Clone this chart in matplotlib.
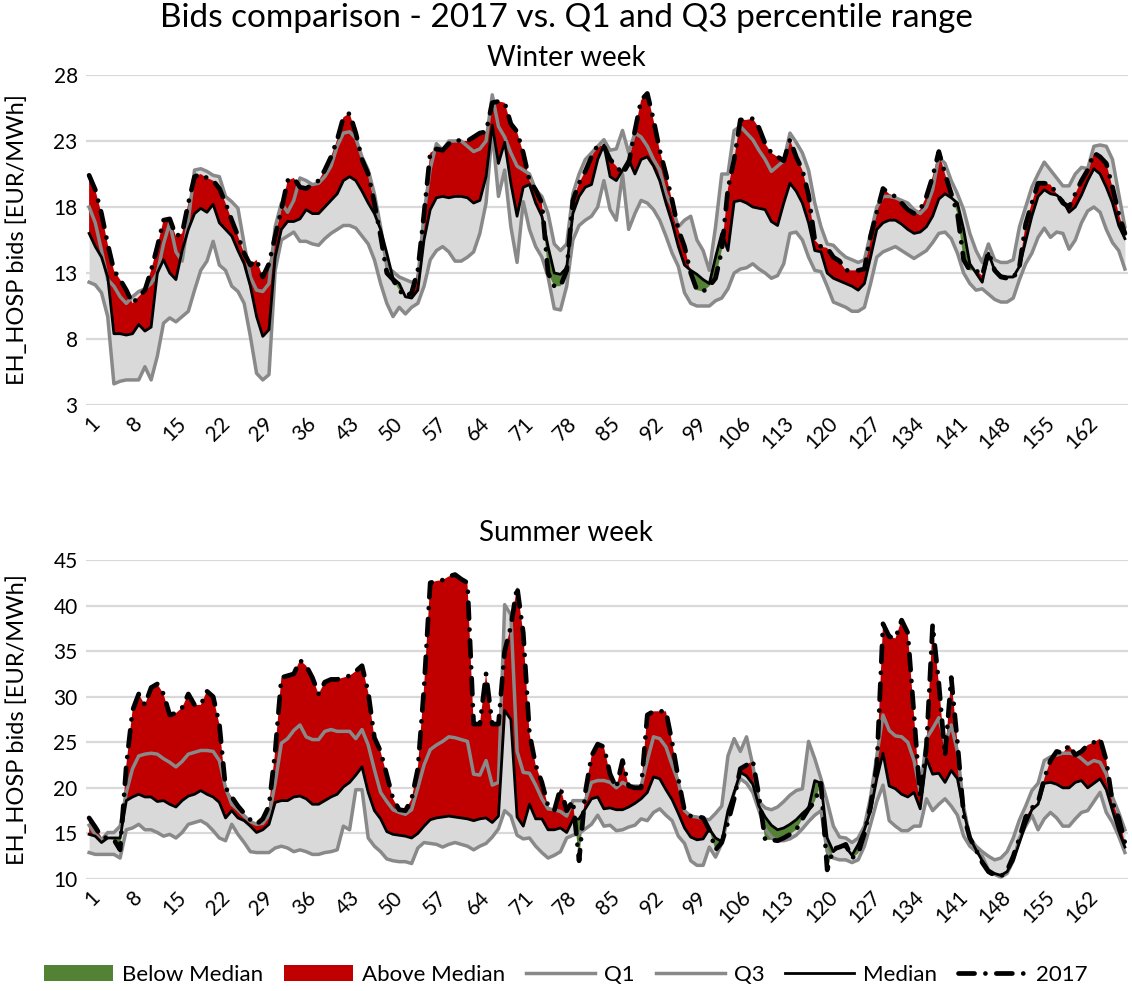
import matplotlib
matplotlib.use("Agg")
import matplotlib.pyplot as plt
from matplotlib.patches import Patch
from matplotlib.lines import Line2D

plt.rcParams['font.family'] = ['Lato', 'DejaVu Sans']

hours = list(range(1, 169))
tick_hours = list(range(1, 169, 7))
tick_labels = [str(h) for h in tick_hours]

title = "Bids comparison - 2017 vs. Q1 and Q3 percentile range"
winter_title = "Winter week"
summer_title = "Summer week"
ylabel = "EH_HOSP bids [EUR/MWh]"

winter_median = [
    16.0, 15.0, 14.2, 12.7, 8.4, 8.4, 8.3, 8.4, 9.1, 8.6,
    8.9, 13.0, 14.0, 13.0, 12.5, 14.7, 16.3, 17.5, 17.9, 17.6,
    18.2, 16.8, 16.3, 15.8, 14.7, 13.7, 12.0, 9.7, 8.2, 8.7,
    14.2, 16.3, 16.9, 16.9, 17.1, 17.8, 17.5, 17.5, 18.0, 18.5,
    19.0, 20.0, 20.3, 20.0, 19.2, 18.3, 17.5, 16.3, 14.5, 12.6,
    12.2, 11.2, 11.1, 11.7, 15.5, 17.8, 18.7, 18.8, 18.7, 18.8,
    18.8, 18.7, 18.3, 18.5, 20.3, 24.2, 21.3, 22.9, 19.8, 17.3,
    19.5, 19.7, 18.3, 17.3, 15.0, 13.0, 12.9, 13.4, 17.5, 18.8,
    19.5, 19.7, 21.6, 22.7, 20.3, 20.0, 20.8, 21.6, 20.5, 21.6,
    21.8, 21.1, 20.0, 18.3, 16.8, 15.0, 13.6, 13.2, 12.9, 12.5,
    12.2, 14.2, 16.0, 14.7, 18.4, 18.5, 18.3, 18.0, 17.9, 17.8,
    16.9, 16.6, 18.3, 19.8, 19.2, 18.3, 16.8, 14.7, 14.6, 13.0,
    12.6, 12.4, 12.2, 12.0, 11.7, 12.2, 14.2, 16.3, 16.8, 17.0,
    17.0, 16.7, 16.3, 16.0, 16.1, 16.5, 17.3, 18.6, 19.0, 18.7,
    18.3, 16.3, 13.7, 13.0, 12.3, 14.5, 13.2, 12.8, 12.7, 12.7,
    13.5, 15.4, 17.3, 18.8, 19.3, 19.0, 18.9, 18.5, 17.6, 18.0,
    18.9, 20.0, 20.9, 20.5, 19.5, 18.3, 16.6, 15.6]

winter_q1 = [
    12.3, 12.1, 11.5, 9.7, 4.6, 4.8, 4.9, 4.9, 4.9, 5.9,
    4.9, 6.7, 9.2, 9.6, 9.3, 9.7, 10.1, 11.7, 13.2, 13.9,
    15.4, 13.6, 13.2, 12.0, 11.6, 10.7, 8.2, 5.4, 4.9, 5.3,
    13.2, 15.5, 15.8, 16.1, 15.4, 15.4, 15.2, 15.1, 15.6, 16.0,
    16.3, 16.6, 16.6, 16.4, 15.8, 15.2, 14.0, 12.2, 10.7, 9.7,
    10.4, 9.9, 10.4, 10.7, 12.0, 14.0, 14.7, 15.0, 14.6, 13.9,
    13.9, 14.2, 14.6, 16.0, 18.3, 23.8, 18.8, 20.8, 16.5, 13.8,
    18.4, 16.3, 15.0, 14.2, 12.7, 10.3, 10.2, 12.0, 15.5, 16.6,
    17.0, 17.3, 18.0, 20.0, 17.8, 17.0, 20.5, 16.3, 17.5, 18.5,
    18.3, 17.8, 17.0, 15.8, 14.5, 13.5, 11.5, 10.7, 10.5, 10.5,
    10.5, 10.9, 11.1, 11.8, 13.0, 13.3, 13.4, 13.7, 13.3, 13.0,
    12.6, 12.8, 13.7, 16.0, 16.1, 15.5, 14.2, 13.2, 13.1, 12.0,
    10.8, 10.6, 10.4, 10.1, 10.1, 10.4, 12.2, 14.2, 14.6, 14.8,
    15.0, 14.7, 14.4, 14.1, 14.4, 14.7, 15.3, 16.0, 16.1, 15.6,
    14.5, 13.0, 12.2, 11.7, 11.8, 11.4, 11.0, 10.8, 10.8, 11.1,
    12.5, 13.7, 14.5, 15.7, 16.4, 15.7, 16.1, 16.0, 14.8, 15.5,
    16.8, 17.7, 18.0, 17.6, 16.3, 15.3, 14.7, 13.3]

winter_q3 = [
    18.0, 16.8, 14.7, 12.5, 12.0, 11.2, 10.7, 11.2, 11.6, 11.8,
    12.2, 13.0, 15.2, 16.8, 14.6, 13.9, 17.0, 20.8, 20.9, 20.7,
    20.4, 20.3, 18.8, 18.4, 17.9, 15.2, 12.7, 11.7, 11.6, 12.2,
    16.5, 18.3, 17.6, 18.5, 20.2, 20.0, 19.7, 19.8, 20.3, 21.1,
    22.6, 23.6, 23.7, 23.2, 21.8, 20.8, 19.0, 16.5, 13.5, 13.1,
    12.7, 12.5, 12.3, 12.5, 17.5, 20.9, 22.8, 22.3, 23.0, 23.0,
    23.0, 22.6, 22.2, 22.4, 23.0, 26.5, 24.1, 23.3, 22.1, 21.1,
    20.8, 20.5, 19.3, 18.8, 17.5, 15.2, 14.7, 15.2, 19.0, 20.5,
    21.6, 22.1, 22.6, 23.1, 22.3, 22.4, 23.8, 22.1, 23.6, 23.3,
    22.6, 21.6, 20.8, 19.0, 18.0, 16.5, 17.0, 17.3, 15.5, 14.7,
    13.2, 16.5, 20.5, 20.5, 23.8, 24.1, 23.6, 23.1, 22.3, 21.6,
    20.7, 21.1, 21.5, 23.6, 22.9, 22.1, 20.8, 18.3, 16.5, 15.2,
    15.1, 14.6, 14.2, 14.0, 13.8, 14.0, 16.0, 18.0, 18.8, 18.8,
    18.7, 18.5, 18.3, 17.8, 17.5, 18.0, 19.3, 21.8, 21.3, 20.0,
    19.0, 17.8, 16.0, 14.7, 13.8, 15.2, 14.0, 13.8, 13.8, 14.0,
    16.5, 18.0, 19.5, 20.5, 21.4, 20.8, 20.2, 19.6, 19.6, 20.5,
    21.0, 20.9, 22.6, 22.7, 22.6, 21.6, 19.0, 16.5]

winter_2017 = [
    20.4, 19.3, 17.5, 15.2, 13.2, 12.5, 11.7, 10.7, 11.2, 11.7,
    13.2, 15.0, 17.0, 17.1, 15.8, 16.0, 18.3, 20.3, 20.5, 20.2,
    20.0, 19.4, 18.3, 17.0, 15.8, 14.5, 13.6, 14.0, 12.7, 13.7,
    15.8, 17.8, 20.0, 20.2, 19.5, 19.4, 19.7, 20.0, 20.8, 21.8,
    23.1, 24.8, 25.1, 23.6, 21.6, 20.5, 18.3, 15.8, 13.0, 12.5,
    11.7, 11.2, 11.5, 13.2, 17.5, 22.1, 22.4, 22.3, 22.8, 23.1,
    23.0, 23.0, 23.3, 23.6, 23.7, 25.9, 26.0, 25.9, 24.3, 23.7,
    22.1, 20.0, 19.3, 18.3, 13.0, 12.0, 12.0, 13.2, 18.5, 19.8,
    20.7, 21.8, 22.7, 22.6, 21.6, 21.1, 20.5, 21.3, 23.8, 26.1,
    26.6, 24.6, 22.3, 20.5, 18.5, 16.3, 15.0, 13.0, 11.7, 11.6,
    12.0, 12.6, 14.7, 19.4, 21.6, 24.6, 24.6, 24.7, 24.0, 22.8,
    22.1, 21.8, 21.5, 23.1, 21.8, 20.8, 18.9, 15.5, 15.0, 14.9,
    14.2, 13.9, 13.2, 13.2, 13.2, 13.3, 15.8, 17.6, 19.4, 19.0,
    18.8, 18.3, 17.8, 17.5, 17.8, 18.8, 20.3, 22.2, 20.5, 19.0,
    17.5, 14.0, 13.2, 13.2, 12.8, 14.6, 13.2, 12.7, 12.6, 12.6,
    13.5, 16.7, 18.3, 19.8, 19.8, 19.7, 19.0, 18.3, 18.0, 19.0,
    20.0, 20.8, 22.1, 21.8, 21.3, 19.5, 17.5, 16.0]

summer_median = [
    14.9, 14.7, 14.0, 14.5, 14.5, 14.5, 18.6, 19.0, 19.3, 19.0,
    19.0, 18.5, 18.6, 18.2, 17.9, 18.6, 19.1, 19.3, 19.7, 19.3,
    19.0, 18.4, 16.7, 17.5, 16.7, 16.4, 15.8, 15.1, 15.4, 16.0,
    18.4, 18.6, 18.6, 19.0, 19.1, 18.8, 18.2, 18.2, 18.6, 19.0,
    19.3, 20.1, 20.6, 21.4, 22.3, 19.5, 17.5, 16.6, 15.2, 14.9,
    14.8, 14.7, 14.5, 15.0, 15.8, 16.5, 16.7, 16.8, 16.9, 16.8,
    16.7, 16.6, 16.4, 16.6, 16.7, 16.2, 16.9, 28.5, 27.5, 16.8,
    15.8, 18.2, 16.6, 16.6, 15.4, 15.4, 15.6, 15.1, 16.5, 16.6,
    17.7, 18.8, 19.0, 17.7, 17.8, 17.6, 17.6, 17.9, 18.3, 18.8,
    19.5, 21.2, 21.0, 19.8, 18.7, 17.2, 15.6, 14.6, 14.3, 14.4,
    15.5, 14.5, 14.1, 17.5, 19.5, 21.7, 21.3, 20.4, 18.0, 16.8,
    15.9, 15.4, 15.6, 16.0, 16.5, 17.2, 17.8, 20.8, 20.5, 14.5,
    13.0, 13.6, 13.5, 12.6, 13.8, 15.4, 17.5, 21.0, 23.8, 20.2,
    19.9, 19.3, 19.0, 19.5, 17.7, 23.2, 21.5, 21.6, 20.6, 21.9,
    21.0, 17.5, 14.5, 13.2, 12.0, 11.0, 10.6, 10.4, 10.8, 12.0,
    14.0, 16.0, 17.6, 18.2, 20.5, 20.6, 20.4, 20.0, 20.0, 20.6,
    20.8, 20.0, 20.5, 21.0, 19.8, 17.5, 15.3, 13.5]

summer_q1 = [
    12.9, 12.7, 12.7, 12.7, 12.7, 12.3, 15.4, 15.6, 16.0, 15.4,
    15.4, 15.1, 14.7, 14.9, 14.5, 15.1, 16.0, 16.2, 16.4, 16.0,
    15.3, 14.5, 14.2, 16.0, 14.9, 14.0, 13.0, 12.9, 12.9, 12.9,
    13.4, 13.6, 13.4, 13.0, 13.2, 13.0, 12.7, 12.7, 12.9, 13.0,
    13.2, 15.8, 15.4, 19.8, 19.8, 14.5, 13.6, 13.0, 12.2, 12.0,
    11.9, 11.9, 11.7, 13.4, 14.0, 13.9, 13.8, 13.5, 13.8, 14.0,
    13.8, 13.6, 13.2, 13.6, 13.9, 14.6, 15.5, 17.5, 16.9, 14.8,
    14.4, 14.5, 13.6, 12.9, 12.3, 12.6, 13.0, 14.5, 14.8, 15.0,
    15.5, 16.0, 17.0, 15.8, 15.9, 15.3, 15.4, 15.7, 15.9, 16.6,
    16.4, 17.3, 17.7, 17.0, 16.4, 14.7, 13.9, 12.0, 11.5, 11.5,
    13.5, 12.4, 13.9, 16.8, 19.5, 21.0, 20.5, 19.5, 17.5, 15.5,
    14.6, 14.2, 14.2, 14.4, 14.8, 15.5, 16.3, 17.0, 17.5, 13.0,
    12.3, 12.1, 12.1, 11.8, 12.1, 13.6, 16.0, 18.5, 20.3, 16.4,
    15.8, 15.3, 15.3, 15.8, 15.8, 18.8, 17.5, 18.2, 18.8, 18.0,
    17.0, 14.7, 13.6, 13.0, 12.5, 11.0, 10.5, 10.2, 10.6, 12.0,
    14.5, 15.8, 17.0, 15.4, 16.6, 17.3, 16.7, 15.8, 15.8, 16.6,
    17.3, 17.5, 18.5, 19.5, 17.3, 16.2, 14.7, 12.9]

summer_q3 = [
    15.9, 14.9, 14.3, 15.1, 15.1, 15.8, 19.5, 22.1, 23.5, 23.7,
    23.8, 23.7, 23.2, 22.8, 22.3, 22.9, 23.7, 23.9, 24.1, 24.1,
    24.0, 23.0, 20.0, 18.2, 17.6, 16.9, 16.3, 16.0, 16.1, 17.0,
    20.5, 24.9, 25.4, 26.3, 26.9, 25.6, 25.3, 25.3, 26.2, 26.4,
    26.2, 26.2, 26.2, 25.4, 26.4, 24.7, 22.0, 19.5, 18.5, 17.6,
    17.3, 17.1, 17.6, 20.0, 22.5, 24.2, 24.7, 25.1, 25.6, 25.5,
    25.3, 25.1, 21.5, 21.4, 23.0, 20.3, 20.6, 40.1, 39.0, 24.0,
    21.7, 21.6, 20.3, 18.8, 17.7, 17.6, 17.4, 16.9, 18.6, 18.6,
    18.6, 20.6, 20.8, 20.8, 20.6, 20.0, 20.6, 20.2, 20.2, 20.2,
    23.0, 25.6, 25.4, 24.5, 22.5, 20.7, 17.5, 16.9, 16.8, 16.6,
    16.5, 17.2, 18.0, 23.5, 25.4, 24.0, 25.6, 22.5, 18.5, 17.8,
    17.6, 17.9, 18.5, 19.2, 19.7, 19.9, 25.1, 23.2, 21.0, 18.5,
    15.8, 14.6, 14.5, 14.0, 14.5, 15.8, 19.0, 23.5, 28.0, 26.3,
    25.7, 25.6, 25.0, 23.0, 19.5, 25.4, 26.5, 27.7, 24.9, 26.9,
    24.0, 18.0, 14.5, 13.6, 13.0, 12.5, 12.1, 12.3, 13.0, 14.5,
    16.5, 18.0, 19.7, 20.5, 23.0, 23.4, 23.6, 23.8, 23.8, 23.7,
    23.2, 22.6, 23.0, 22.8, 21.5, 19.0, 17.3, 15.4]

summer_2017 = [
    16.7, 15.7, 14.6, 14.5, 14.3, 13.2, 22.5, 28.5, 30.3, 29.1,
    31.0, 31.4, 30.3, 28.0, 28.2, 28.8, 30.3, 29.1, 29.1, 30.6,
    30.0, 27.0, 20.0, 19.0, 18.0, 17.2, 16.5, 16.0, 16.6, 18.0,
    24.0, 32.1, 32.3, 32.5, 34.0, 33.4, 32.1, 30.3, 31.6, 31.9,
    31.9, 32.1, 32.3, 32.8, 33.4, 30.5, 25.5, 24.0, 21.4, 18.8,
    17.6, 17.5, 18.8, 22.1, 31.0, 42.5, 42.7, 42.8, 43.2, 43.4,
    42.9, 42.5, 27.0, 27.0, 32.5, 27.0, 27.0, 35.0, 37.7, 42.1,
    37.0, 26.0, 22.5, 20.6, 18.0, 17.5, 20.0, 17.5, 18.6, 12.0,
    19.5, 23.5, 24.8, 24.5, 21.5, 20.0, 23.0, 20.2, 20.0, 20.0,
    28.0, 28.4, 28.4, 28.4, 25.0, 21.0, 17.5, 16.9, 16.9, 16.7,
    15.4, 13.2, 14.0, 16.2, 18.8, 22.1, 22.5, 23.0, 19.1, 14.3,
    14.3, 14.2, 14.5, 14.9, 15.4, 16.6, 17.7, 18.5, 20.5, 11.0,
    13.3, 13.5, 13.8, 12.3, 12.8, 15.0, 18.0, 22.5, 38.0, 36.6,
    36.4, 38.4, 37.0, 28.0, 18.8, 24.5, 37.9, 31.5, 23.5, 32.1,
    25.0, 17.0, 14.5, 13.2, 11.8, 10.8, 10.4, 10.3, 10.9, 12.5,
    14.5, 16.8, 17.8, 18.4, 21.0, 23.0, 24.0, 23.8, 24.7, 23.6,
    24.0, 24.7, 25.0, 25.4, 23.0, 18.4, 16.7, 14.0]

RED = '#C00000'
GREEN = '#548235'
BAND = '#D9D9D9'
QGRAY = '#898989'
GRID = '#D9D9D9'

fig = plt.figure(figsize=(11.32, 9.91), dpi=100)
ax1 = fig.add_axes([86/1132, 1-405/991, (1128-86)/1132, 330/991])
ax2 = fig.add_axes([86/1132, 1-879/991, (1128-86)/1132, 319/991])

dash17 = (0, (3.4, 2.3, 0.01, 2.3))
LW17 = 3.4


def draw(ax, q1, q3, med, y17, ylim, yticks):
    ax.fill_between(hours, q1, q3, color=BAND, lw=0, zorder=1)
    ax.fill_between(hours, med, y17, where=[a >= b for a, b in zip(y17, med)],
                    interpolate=True, color=RED, lw=0, zorder=2)
    ax.fill_between(hours, med, y17, where=[a < b for a, b in zip(y17, med)],
                    interpolate=True, color=GREEN, lw=0, zorder=2)
    ax.plot(hours, q1, color=QGRAY, lw=2.5, zorder=3, solid_joinstyle='round')
    ax.plot(hours, q3, color=QGRAY, lw=2.5, zorder=3, solid_joinstyle='round')
    ax.plot(hours, med, color='black', lw=2.0, zorder=4, solid_joinstyle='round')
    ax.plot(hours, y17, color='black', lw=LW17, linestyle=dash17,
            dash_capstyle='round', zorder=5)
    ax.set_xlim(0.5, 168.5)
    ax.set_ylim(*ylim)
    ax.set_yticks(yticks)
    ax.set_yticklabels([str(t) for t in yticks], fontsize=15)
    ax.set_xticks(tick_hours)
    ax.set_xticklabels(tick_labels, rotation=45, ha='right', va='top',
                       rotation_mode='anchor', fontsize=15)
    ax.tick_params(length=0, pad=6)
    ax.yaxis.grid(True, color=GRID, lw=1.6, zorder=0)
    ax.set_axisbelow(True)
    for s in ax.spines.values():
        s.set_visible(False)
    ax.set_ylabel(ylabel, fontsize=17, labelpad=18)


draw(ax1, winter_q1, winter_q3, winter_median, winter_2017, (3, 28), [3, 8, 13, 18, 23, 28])
draw(ax2, summer_q1, summer_q3, summer_median, summer_2017, (10, 45), [10, 15, 20, 25, 30, 35, 40, 45])

fig.text(0.5, 1-18/991, title, ha='center', va='center', fontsize=24)
fig.text(0.5, 1-58/991, winter_title, ha='center', va='center', fontsize=20)
fig.text(0.5, 1-533/991, summer_title, ha='center', va='center', fontsize=20)

handles = [
    Patch(facecolor=GREEN, edgecolor='none', label='Below Median'),
    Patch(facecolor=RED, edgecolor='none', label='Above Median'),
    Line2D([0], [0], color=QGRAY, lw=2.5, label='Q1'),
    Line2D([0], [0], color=QGRAY, lw=2.5, label='Q3'),
    Line2D([0], [0], color='black', lw=2.0, label='Median'),
    Line2D([0], [0], color='black', lw=LW17, linestyle=dash17,
           dash_capstyle='round', label='2017'),
]
fig.legend(handles=handles, loc='center', bbox_to_anchor=(0.5, 1-975/991),
           ncol=6, frameon=False, fontsize=16, handlelength=3.1,
           handleheight=0.75, columnspacing=0.95, handletextpad=0.4)

fig.savefig('out.png', dpi=100)
